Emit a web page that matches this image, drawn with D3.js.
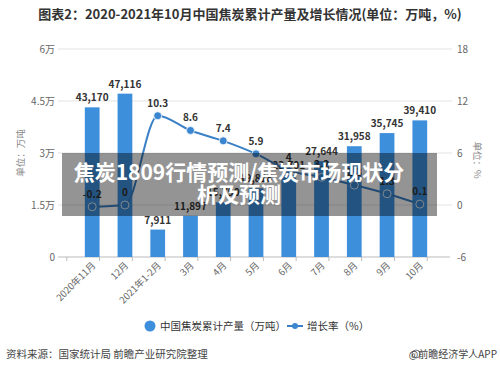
<!DOCTYPE html>
<html>
<head>
<meta charset="utf-8">
<script src="https://cdn.jsdelivr.net/npm/d3@7"></script>
<style>
  body { margin: 0; background: #fff; }
  svg { font-family: "Noto Sans CJK SC", "Noto Sans", sans-serif; }
</style>
</head>
<body>
<div id="chart"></div>
<script>
// data
const categories = ["2020年11月", "12月", "2021年1-2月", "3月", "4月", "5月", "6月", "7月", "8月", "9月", "10月"];
const output = [43170, 47116, 7911, 11897, 15790, 19818, 23701, 27644, 31958, 35745, 39410];
const growth = [-0.2, 0, 10.3, 8.6, 7.4, 5.9, 4.0, 3.2, 2.3, 1.3, 0.1];
const leftTicks = [0, 15000, 30000, 45000, 60000];
const leftTickLabels = ["0", "1.5万", "3万", "4.5万", "6万"];
const rightTicks = [-6, 0, 6, 12, 18];

const width = 500, height = 370;
const plot = { left: 62, right: 450, top: 49, bottom: 257 };

const svg = d3.select("#chart").append("svg")
  .attr("width", width).attr("height", height);

const x = d3.scaleBand().domain(categories).range([66.8, 445.2]).padding(0.55);
const yL = d3.scaleLinear().domain([0, 60000]).range([plot.bottom, plot.top]);
const yR = d3.scaleLinear().domain([-6, 18]).range([plot.bottom, plot.top]);

// title
svg.append("text").attr("x", 250).attr("y", 19).attr("text-anchor", "middle")
  .style("font-size", "13px").style("font-weight", "bold").style("fill", "#333")
  .text("图表2：2020-2021年10月中国焦炭累计产量及增长情况(单位：万吨，%)");

// grid lines
svg.append("g").selectAll("line").data(leftTicks.slice(1)).enter().append("line")
  .attr("x1", plot.left - 4).attr("x2", plot.right + 2)
  .attr("y1", d => yL(d)).attr("y2", d => yL(d))
  .attr("stroke", "#e3e3e3");

// left axis labels
svg.append("g").selectAll("text").data(leftTicks).enter().append("text")
  .attr("x", plot.left - 7).attr("y", d => yL(d) + 3.5)
  .attr("text-anchor", "end").style("font-size", "10px").style("fill", "#666")
  .text((d, i) => leftTickLabels[i]);

// right axis labels
svg.append("g").selectAll("text").data(rightTicks).enter().append("text")
  .attr("x", plot.right + 7).attr("y", d => yR(d) + 3.5)
  .style("font-size", "10px").style("fill", "#666")
  .text(d => d);

// axis titles
svg.append("text").attr("transform", "translate(24,153) rotate(-90)")
  .attr("text-anchor", "middle").style("font-size", "9.5px").style("fill", "#888")
  .text("单位：万吨");
svg.append("text").attr("transform", "translate(474,160) rotate(90)")
  .attr("text-anchor", "middle").style("font-size", "9.5px").style("fill", "#888")
  .text("单位：%");

// bottom axis
const xAxis = svg.append("g").attr("transform", `translate(0,${plot.bottom})`)
  .call(d3.axisBottom(x).tickSize(0).tickFormat(""));
xAxis.select(".domain").attr("stroke", "#bbb").attr("d", `M${plot.left - 4},0H${plot.right}`);
const step = x.step();
svg.append("g").selectAll("line").data(categories.concat(["end"])).enter().append("line")
  .attr("x1", (d, i) => x.range()[0] + i * step).attr("x2", (d, i) => x.range()[0] + i * step)
  .attr("y1", plot.bottom).attr("y2", plot.bottom + 4).attr("stroke", "#bbb");
svg.append("g").selectAll("text").data(categories).enter().append("text")
  .attr("transform", d => `translate(${x(d) + x.bandwidth() / 2 + 4},${plot.bottom + 9}) rotate(-45)`)
  .attr("text-anchor", "end").style("font-size", "9.5px").style("fill", "#666")
  .text(d => d);

// bars
svg.append("g").selectAll("rect").data(output).enter().append("rect")
  .attr("x", (d, i) => x(categories[i]))
  .attr("y", d => yL(d))
  .attr("width", x.bandwidth())
  .attr("height", d => plot.bottom - yL(d))
  .attr("fill", "#3d8fdc");

svg.append("g").selectAll("text").data(output).enter().append("text")
  .attr("x", (d, i) => x(categories[i]) + x.bandwidth() / 2)
  .attr("y", d => yL(d) - 6)
  .attr("text-anchor", "middle").style("font-size", "10px").style("font-weight", "bold").style("fill", "#333")
  .text(d => d3.format(",")(d));

// growth line
const cx = (d, i) => x(categories[i]) + x.bandwidth() / 2;
const line = d3.line().x(cx).y(d => yR(d)).curve(d3.curveMonotoneX);
svg.append("path").datum(growth).attr("d", line)
  .attr("fill", "none").attr("stroke", "#3a80c6").attr("stroke-width", 2);
svg.append("g").selectAll("circle").data(growth).enter().append("circle")
  .attr("cx", cx).attr("cy", d => yR(d)).attr("r", 4)
  .attr("fill", "#3a86d0").attr("stroke", "#fff").attr("stroke-width", 0.8);
svg.append("g").selectAll("text").data(growth).enter().append("text")
  .attr("x", cx).attr("y", d => yR(d) - 9)
  .attr("text-anchor", "middle").style("font-size", "10px").style("font-weight", "bold").style("fill", "#333")
  .text(d => d);

// legend
svg.append("circle").attr("cx", 150).attr("cy", 326).attr("r", 5.5).attr("fill", "#3d8fdc");
svg.append("text").attr("x", 160).attr("y", 330).style("font-size", "10.5px").style("fill", "#333")
  .text("中国焦炭累计产量（万吨）");
svg.append("line").attr("x1", 287).attr("x2", 303).attr("y1", 326).attr("y2", 326)
  .attr("stroke", "#3a80c6").attr("stroke-width", 2);
svg.append("circle").attr("cx", 295).attr("cy", 326).attr("r", 3).attr("fill", "#3a86d0");
svg.append("text").attr("x", 307).attr("y", 330).style("font-size", "10.5px").style("fill", "#333")
  .text("增长率（%）");

// footer
svg.append("text").attr("x", 6).attr("y", 358).style("font-size", "10.5px").style("fill", "#444")
  .text("资料来源：国家统计局 前瞻产业研究院整理");
svg.append("circle").attr("cx", 416).attr("cy", 354).attr("r", 4).attr("fill", "none").attr("stroke", "#777");
svg.append("text").attr("x", 497).attr("y", 358).attr("text-anchor", "end")
  .style("font-size", "10px").style("fill", "#444")
  .text("@前瞻经济学人APP");

// overlay banner
svg.append("rect").attr("x", 62).attr("y", 153).attr("width", 375).attr("height", 63)
  .attr("fill", "rgba(0,0,0,0.42)");
const banner = svg.append("text").attr("text-anchor", "middle")
  .style("font-size", "21px").style("font-weight", "bold").style("fill", "#fff");
banner.append("tspan").attr("x", 239).attr("y", 180).text("焦炭1809行情预测/焦炭市场现状分");
banner.append("tspan").attr("x", 239).attr("y", 202).text("析及预测");
</script>
</body>
</html>
